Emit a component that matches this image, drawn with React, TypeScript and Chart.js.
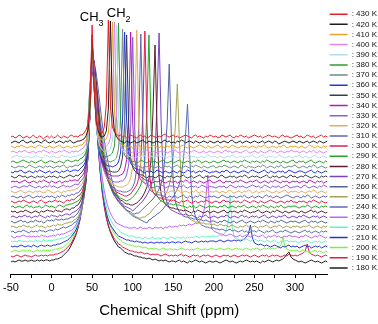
import { useEffect, useRef } from 'react';
import { Chart, registerables } from 'chart.js';

Chart.register(...registerables);

const FONT = '"Liberation Sans", Arial, Helvetica, sans-serif';

// chemical shift sampling (ppm)
const ppmAxis = [
  -50, -47.5, -45, -42.5, -40, -37.5, -35, -32.5, -30, -27.5, -25, -22.5, -20, -17.5, -15, -12.5, -10, -7.5, -5, -2.5,
  0, 2.5, 5, 7.5, 10, 12.5, 15, 17.5, 20, 22.5, 25, 27.5, 30, 32.5, 35, 37.5, 40, 42.5, 45, 47.5,
  50, 52.5, 55, 57.5, 60, 62.5, 65, 67.5, 70, 72.5, 75, 77.5, 80, 82.5, 85, 87.5, 90, 92.5, 95, 97.5,
  100, 102.5, 105, 107.5, 110, 112.5, 115, 117.5, 120, 122.5, 125, 127.5, 130, 132.5, 135, 137.5, 140, 142.5, 145, 147.5,
  150, 152.5, 155, 157.5, 160, 162.5, 165, 167.5, 170, 172.5, 175, 177.5, 180, 182.5, 185, 187.5, 190, 192.5, 195, 197.5,
  200, 202.5, 205, 207.5, 210, 212.5, 215, 217.5, 220, 222.5, 225, 227.5, 230, 232.5, 235, 237.5, 240, 242.5, 245, 247.5,
  250, 252.5, 255, 257.5, 260, 262.5, 265, 267.5, 270, 272.5, 275, 277.5, 280, 282.5, 285, 287.5, 290, 292.5, 295, 297.5,
  300, 302.5, 305, 307.5, 310, 312.5, 315, 317.5, 320, 322.5, 325, 327.5, 330, 332.5, 335, 337.5, 340,
];

const temperatureLabels = [
  '430 K', '420 K', '410 K', '400 K', '390 K', '380 K', '370 K', '360 K', '350 K', '340 K', '330 K', '320 K', '310 K',
  '300 K', '290 K', '280 K', '270 K', '260 K', '250 K', '240 K', '230 K', '220 K', '210 K', '200 K', '190 K', '180 K',
];

const seriesColors = [
  '#e8202a', '#1e1e1e', '#e8a428', '#e484f4', '#b4dcec', '#2e9e2e', '#6e8c84', '#2434e4', '#3c3c48', '#b41cb4',
  '#8c5ce4', '#e4ac64', '#6264bc', '#e41c4c', '#24a424', '#5c1c2c', '#7444c4', '#5064a4', '#a4a454', '#5a6cb4',
  '#c464f4', '#64f4c4', '#2434d4', '#74f444', '#e41c44', '#202020',
];

// intensities (relative to each trace's own baseline)
const t430 = [
  0, 1, -1, 0, 2, 1, -1, 0, 1, -1, 0, 2, 0, -1, 1, 0, -2, 0, 1, -1,
  1, -1, 0, 2, 0, -1, 1, 0, -1, 1, 2, 0, 1, 0, 2, 2, 4, 7, 13, 38,
  112, 49, 18, 8, 5, 4, 10, 33, 117, 32, 10, 5, 3, 1, 2, 0, 1, -1, 0, 2,
  1, 0, -1, 1, 2, 0, 1, -1, 0, 2, 1, 0, -1, 1, 0, 2, 3, 1, 0, 1,
  2, 0, 1, -1, 0, 1, 2, 1, 0, -1, 1, 2, 0, 1, 0, -1, 1, 0, 2, 1,
  0, 1, -1, 0, 2, 1, 0, 1, 2, 0, -1, 1, 0, 2, 1, 0, 1, -1, 0, 1,
  2, 1, 0, 1, -1, 0, 1, 2, 1, 0, 1, 0, -1, 1, 2, 0, 1, 0, -1, 0,
  1, 2, 0, 1, -1, 0, 2, 1, 0, 1, -1, 0, 1, 2, 0, 1, 0,
];
const t420 = [
  -1, 0, 1, 0, -1, 1, 2, 0, -1, 0, 1, -1, 0, 1, 0, -1, 1, 2, 0, -1,
  0, 1, -1, 0, 1, 0, -1, 1, 0, 2, 0, -1, 0, 1, 1, 2, 3, 6, 12, 36,
  107, 53, 21, 11, 6, 5, 6, 11, 33, 121, 33, 11, 5, 3, 1, 0, -1, 1, 0, -1,
  0, 1, -1, 0, 1, 2, 0, -1, 1, 0, -1, 0, 1, 0, -1, 1, 2, 0, 1, -1,
  0, -1, 1, 0, 2, 1, -1, 0, 1, 0, -1, 1, 0, -1, 0, 1, 0, -1, 1, 0,
  -1, 0, 1, -1, 0, 1, 0, -1, 1, 2, 0, -1, 0, 1, -1, 0, 1, 0, -1, 0,
  1, 0, -1, 0, 1, -1, 0, 1, 0, -1, 1, 0, -2, -1, 0, 1, 0, -1, 0, 1,
  0, -1, 1, 0, -1, 0, 1, -1, 0, 1, 0, -1, 1, 0, -1, 0, 1,
];
const t410 = [
  1, 0, -1, 1, 0, 2, 1, 0, -1, 0, 1, 0, -1, 1, 2, 1, 0, -1, 0, 1,
  0, -1, 0, 1, 2, 0, -1, 0, 1, 0, -1, 1, 0, 1, 2, 2, 4, 7, 13, 38,
  105, 59, 25, 13, 8, 7, 7, 8, 14, 38, 125, 37, 13, 6, 3, 2, 1, -1, 0, 1,
  -1, 0, 1, 2, 0, -1, 1, 0, -1, 0, 2, 1, 0, -1, 1, 0, -1, 1, 0, 2,
  1, 0, -1, 0, 1, 2, 0, -1, 1, 0, -1, 0, 1, 2, 1, 0, -1, 1, 0, -1,
  0, 1, 2, 0, -1, 0, 1, -1, 0, 2, 1, 0, -1, 0, 1, 0, 1, -1, 0, 1,
  0, -1, 1, 0, 1, 2, 0, -1, 0, 1, 0, -1, 1, 0, 2, 1, -1, 0, 1, 0,
  1, 0, -1, 1, 0, -1, 0, 2, 1, 0, -1, 1, 0, -1, 1, 0, 1,
];
const t400 = [
  0, 1, 0, -1, 1, 0, 1, 2, 0, -1, 0, 1, -1, 0, 1, 0, 2, 1, 0, -1,
  1, 0, -1, 0, 1, 0, 2, 1, 0, -1, 1, 0, 1, 0, 2, 3, 5, 8, 16, 45,
  116, 68, 30, 16, 10, 8, 6, 6, 8, 14, 40, 130, 38, 13, 6, 3, 2, 0, 1, -1,
  0, 1, 0, -1, 1, 0, 1, 2, 0, -1, 0, 1, -1, 0, 1, 0, 1, -1, 0, 1,
  1, 2, 0, -1, 0, 1, 0, -1, 1, 0, 2, 1, 0, -1, 0, 1, -1, 0, 1, 0,
  -1, 0, 1, 0, -1, 1, 2, 0, 1, -1, 0, 1, 0, -1, 0, 1, 2, 0, -1, 0,
  1, 0, -1, 1, 0, -1, 0, 1, 2, 0, 1, -1, 0, 1, 0, -1, 1, 0, 2, 1,
  0, 1, -1, 0, 1, 0, -1, 1, 0, 2, 0, -1, 1, 0, -1, 0, 1,
];
const t390 = [
  -1, 0, 1, 2, 0, 1, -1, 0, 1, 0, -1, 0, 1, 1, 0, -1, 0, 2, 1, 0,
  0, 1, 0, -1, 0, 2, 1, 0, 1, -1, 0, 1, 0, 2, 2, 3, 5, 8, 17, 46,
  112, 69, 32, 17, 10, 7, 5, 6, 6, 8, 17, 44, 132, 42, 15, 7, 4, 3, 1, 0,
  1, -1, 0, 1, 0, 2, 1, -1, 0, 1, 0, -1, 1, 2, 0, 1, 0, -1, 1, 0,
  0, 1, -1, 0, 1, 0, -1, 1, 2, 0, 1, 0, -1, 0, 1, -1, 0, 2, 1, 0,
  1, 0, -1, 1, 0, -1, 0, 1, 0, 2, 1, -1, 0, 1, 0, -1, 1, 0, 1, 2,
  0, -1, 0, 1, 2, 0, -1, 1, 0, 1, -1, 0, 2, 1, 0, -1, 0, 1, 0, -1,
  1, 0, 2, 0, -1, 1, 0, -1, 0, 1, 2, 0, -1, 0, 1, 0, -1,
];
const t380 = [
  0, 1, 0, -1, 0, 1, 2, 1, 0, -1, 1, 0, -1, 0, 1, 2, 0, -1, 0, 1,
  1, 0, -1, 0, 1, 0, -1, 1, 2, 1, 0, 1, 2, 1, 3, 4, 6, 10, 20, 53,
  122, 81, 40, 22, 14, 9, 6, 5, 6, 7, 9, 16, 45, 139, 44, 15, 7, 4, 3, 2,
  0, 1, -1, 0, 2, 1, 0, -1, 1, 0, 0, 1, -1, 0, 1, 2, 0, -1, 0, 1,
  -1, 0, 1, 2, 0, -1, 0, 1, 0, -1, 1, 0, 2, 1, -1, 0, 1, 0, -1, 0,
  1, 0, -1, 0, 1, 2, 0, 1, -1, 0, 1, 0, -1, 1, 0, 2, 1, 0, -1, 1,
  0, 1, 0, -1, 1, 0, 2, 1, 0, -1, 0, 1, 0, -1, 1, 0, -1, 0, 1, 2,
  0, -1, 1, 0, 1, -1, 0, 1, 2, 0, -1, 0, 1, 0, -1, 1, 0,
];
const t370 = [
  1, 0, -1, 0, 1, 0, 1, -1, 0, 2, 1, 0, -1, 0, 1, 0, -1, 1, 0, 1,
  0, -1, 0, 1, 0, 1, 2, 0, -1, 1, 0, 1, 2, 1, 3, 4, 6, 10, 20, 54,
  117, 82, 43, 23, 15, 10, 7, 6, 6, 5, 6, 7, 9, 18, 48, 138, 48, 17, 8, 5,
  3, 2, 1, 1, 0, -1, 1, 0, 2, 1, 0, -1, 0, 1, -1, 0, 1, 0, 1, -1,
  0, 1, 2, 0, -1, 0, 1, 0, -1, 1, 0, 2, 1, 0, -1, 1, 0, -1, 0, 1,
  1, -1, 0, 1, 0, 2, 1, 0, -1, 0, 1, 0, -1, 1, 2, 0, -1, 1, 0, 0,
  -1, 0, 1, 0, 2, 1, -1, 0, 1, 0, -1, 1, 0, 2, 0, -1, 0, 1, 0, 1,
  2, 0, -1, 0, 1, 0, -1, 1, 0, 2, 1, -1, 0, 1, 0, -1, 0,
];
const t360 = [
  0, -1, 1, 0, 1, 2, 0, -1, 0, 1, 0, -1, 1, 0, 2, 1, 0, -1, 0, 1,
  -1, 0, 1, 0, -1, 1, 0, 1, 2, 0, 1, 2, 2, 1, 3, 5, 7, 12, 24, 62,
  128, 92, 50, 28, 18, 12, 9, 7, 6, 6, 5, 6, 7, 10, 19, 52, 140, 52, 19, 9,
  6, 4, 3, 2, 2, 0, -1, 1, 0, 1, -1, 0, 2, 1, 0, -1, 1, 0, -1, 0,
  1, 0, -1, 1, 0, -1, 0, 2, 1, 0, 1, -1, 0, 1, 0, 2, 1, 0, -1, 0,
  0, 1, 0, -1, 1, 0, 2, 1, -1, 0, 1, 0, -1, 0, 1, 1, 0, -1, 1, 2,
  1, 0, -1, 0, 1, 2, 0, -1, 1, 0, -1, 0, 1, 0, 1, -1, 0, 2, 1, 0,
  -1, 0, 1, 1, 0, -1, 0, 1, 2, 0, -1, 1, 0, -1, 0, 1, 0,
];
const t350 = [
  1, 0, -1, 0, 2, 1, 0, 1, -1, 0, 1, 0, -1, 1, 0, 0, 1, -1, 0, 1,
  0, 1, 0, -1, 1, 0, -1, 0, 1, 2, 1, 0, 2, 1, 3, 5, 8, 13, 26, 64,
  129, 98, 58, 34, 22, 15, 11, 8, 6, 6, 5, 5, 5, 6, 10, 20, 52, 142, 52, 19,
  10, 6, 4, 3, 2, 2, 0, -1, 1, 0, 1, -1, 0, 2, 1, 0, -1, 1, 0, 1,
  -1, 0, 1, 0, 1, 2, 0, -1, 0, 1, -1, 0, 1, 2, 0, -1, 1, 0, 0, 1,
  1, 0, -1, 1, 2, 0, -1, 0, 1, 0, 1, -1, 0, 1, 0, 2, 1, -1, 0, 1,
  0, 1, 0, -1, 0, 1, 2, 0, -1, 1, 0, 1, -1, 0, 1, 0, -1, 1, 2, 0,
  1, -1, 0, 1, 0, 2, 1, 0, -1, 0, 1, 0, -1, 1, 0, 1, 0,
];
const t340 = [
  0, 1, 0, 1, -1, 0, 1, 2, 0, -1, 0, 1, 0, -1, 1, 0, 2, 1, 0, -1,
  1, 0, -1, 0, 1, -1, 0, 1, 0, 2, 1, 2, 2, 1, 4, 6, 9, 15, 30, 73,
  140, 112, 70, 43, 28, 19, 14, 10, 8, 7, 6, 6, 6, 6, 7, 8, 12, 22, 60, 150,
  59, 22, 11, 7, 5, 4, 2, 2, 1, 0, -1, 1, 0, 1, 2, 0, -1, 0, 1, 0,
  0, 1, -1, 0, 1, 0, 2, 1, -1, 0, 1, 0, -1, 1, 0, -1, 0, 1, 2, 0,
  -1, 0, 1, 2, 0, -1, 1, 0, 1, -1, 0, 1, 0, 2, 1, 0, -1, 0, 1, 0,
  1, 2, 0, -1, 0, 1, 0, -1, 1, 0, 2, 1, 0, -1, 1, 0, 1, -1, 0, 1,
  0, 1, -1, 0, 1, 0, -1, 2, 1, 0, -1, 1, 0, 1, -1, 0, 1,
];
const t330 = [
  -1, 0, 1, 0, -1, 0, 1, 1, 0, 2, 1, 0, -1, 0, 1, -1, 0, 1, 0, 2,
  0, 1, 0, -1, 0, 1, 2, 0, 1, 0, 1, 2, 3, 2, 5, 7, 10, 16, 32, 75,
  135, 112, 74, 47, 31, 22, 16, 12, 10, 8, 6, 5, 5, 5, 6, 6, 8, 12, 22, 60,
  150, 59, 22, 11, 7, 5, 4, 3, 2, 1, -1, 0, 1, 0, 2, 1, -1, 0, 1, 1,
  1, 0, -1, 1, 0, 2, 0, -1, 0, 1, 0, 1, -1, 0, 2, 1, 0, -1, 1, 0,
  0, -1, 0, 1, 0, 1, -1, 0, 2, 1, 0, -1, 1, 0, 1, 0, -1, 0, 1, 2,
  1, 0, 1, -1, 0, 2, 1, 0, -1, 1, 0, 0, 1, -1, 0, 1, 2, 0, -1, 0,
  0, 1, 0, -1, 1, 2, 0, -1, 0, 1, 0, -1, 1, 0, 2, 1, 0,
];
const t320 = [
  1, 0, -1, 0, 1, 2, 0, -1, 0, 1, 0, -1, 1, 0, 1, 0, -1, 0, 2, 1,
  0, -1, 0, 1, 0, -1, 1, 0, 2, 1, 2, 2, 3, 4, 6, 8, 12, 20, 38, 86,
  146, 124, 86, 57, 39, 28, 20, 15, 12, 10, 8, 7, 6, 5, 5, 5, 6, 7, 9, 14,
  26, 68, 162, 67, 25, 13, 8, 6, 4, 3, 2, 1, 0, -1, 1, 0, 1, -1, 0, 1,
  1, 0, 2, 1, -1, 0, 1, 0, -1, 1, 0, 2, 0, -1, 1, 0, -1, 0, 1, 0,
  0, 1, 0, -1, 1, 0, -1, 1, 2, 0, -1, 0, 1, 0, -1, 1, 0, 2, 1, -1,
  0, 1, -1, 0, 1, 0, 2, 1, 0, -1, 0, 1, -1, 0, 1, 2, 0, -1, 1, 0,
  1, 0, -1, 1, 0, -1, 0, 1, 0, 2, 1, -1, 0, 1, 0, -1, 1,
];
const t310 = [
  0, 1, 0, -1, 0, 1, -1, 0, 1, 2, 0, -1, 0, 1, 0, 1, -1, 0, 1, 0,
  1, 0, -1, 1, 0, 2, 1, 0, 2, 1, 3, 2, 4, 4, 6, 9, 13, 22, 41, 88,
  142, 126, 94, 66, 47, 34, 26, 20, 16, 13, 10, 9, 7, 6, 6, 5, 5, 5, 6, 7,
  10, 15, 28, 72, 163, 71, 27, 14, 9, 6, 5, 3, 3, 2, 2, 1, 0, -1, 1, 0,
  0, 1, -1, 0, 1, 2, 0, -1, 1, 0, -1, 1, 0, 2, 1, 0, -1, 0, 1, 0,
  1, 0, -1, 0, 2, 1, 0, -1, 1, 0, 1, -1, 0, 1, 0, 2, 0, -1, 0, 1,
  -1, 0, 1, 0, -1, 1, 2, 0, 1, -1, 0, 1, 0, -1, 0, 1, 2, 1, 0, -1,
  0, 1, 0, -1, 1, 0, 2, 1, -1, 0, 1, 0, -1, 0, 1, 0, 1,
];
const t300 = [
  1, 0, -1, 0, 1, 0, 2, 1, 0, -1, 0, 1, 0, -1, 1, 2, 0, -1, 0, 1,
  0, 1, 2, 0, 1, 0, -1, 1, 2, 1, 3, 2, 4, 6, 7, 10, 16, 26, 48, 99,
  152, 138, 109, 81, 59, 44, 34, 26, 21, 17, 14, 12, 10, 9, 8, 7, 6, 6, 7, 8,
  11, 14, 17, 24, 40, 88, 171, 80, 32, 16, 10, 7, 6, 4, 4, 3, 3, 2, 2, 1,
  2, 1, 0, -1, 1, 0, 1, 2, 0, -1, 0, 1, -1, 0, 1, 0, 2, 1, 0, -1,
  0, 1, 0, -1, 1, 2, 0, 1, -1, 0, 1, 0, 1, -1, 0, 2, 1, 0, -1, 1,
  1, 0, -1, 1, 0, -1, 0, 1, 2, 1, 0, -1, 0, 1, 0, -1, 1, 0, 2, 0,
  0, -1, 1, 0, 1, 0, -1, 1, 0, 2, 1, 0, -1, 1, 0, -1, 0,
];
const t290 = [
  0, 1, -1, 0, 1, 0, -1, 1, 2, 0, 1, -1, 0, 0, 1, -1, 0, 2, 1, 0,
  1, 0, -1, 1, 2, 1, 0, 2, 2, 3, 3, 4, 5, 6, 8, 12, 17, 28, 51, 101,
  149, 138, 114, 88, 67, 51, 40, 31, 25, 21, 17, 15, 12, 11, 9, 8, 7, 6, 7, 8,
  10, 12, 15, 18, 22, 30, 47, 96, 172, 84, 34, 18, 11, 8, 6, 5, 4, 4, 3, 3,
  2, 3, 2, 2, 1, 1, 0, -1, 1, 0, 1, -1, 0, 2, 1, 0, -1, 0, 1, 0,
  1, 0, -1, 1, 0, 2, 1, -1, 0, 1, 0, -1, 1, 0, 1, 2, 0, -1, 0, 1,
  0, -1, 1, 0, 2, 1, 0, -1, 1, 0, -1, 1, 0, 2, 0, -1, 0, 1, 0, 1,
  1, 0, -1, 0, 1, 0, 2, 1, -1, 0, 1, 0, -1, 1, 0, 1, 0,
];
const t280 = [
  1, 0, 1, -1, 0, 1, 0, 2, 1, 0, -1, 0, 1, 0, -1, 1, 0, 1, 2, 1,
  1, 0, 2, 1, 1, 0, 2, 3, 3, 2, 4, 4, 6, 7, 10, 14, 20, 32, 58, 112,
  160, 150, 128, 102, 80, 62, 49, 40, 32, 26, 22, 19, 16, 14, 12, 11, 9, 8, 8, 7,
  7, 8, 9, 11, 13, 16, 20, 25, 33, 51, 101, 167, 84, 35, 18, 12, 8, 6, 5, 4,
  4, 3, 3, 2, 2, 1, 2, 1, 0, -1, 1, 0, 2, 1, 0, -1, 0, 1, -1, 0,
  1, 0, -1, 0, 1, 2, 0, -1, 1, 0, 1, 0, -1, 1, 0, 2, 1, 0, -1, 0,
  0, 1, 2, 0, -1, 0, 1, 0, -1, 1, 0, 2, 1, 0, -1, 1, 0, -1, 0, 1,
  1, 0, -1, 1, 0, -1, 0, 1, 2, 0, 1, -1, 0, 1, 0, -1, 0,
];
const t270 = [
  0, 1, 0, -1, 1, 0, 1, 2, 0, 1, -1, 0, 1, 0, 2, 1, 0, -1, 1, 0,
  2, 1, 1, 0, 2, 1, 2, 3, 3, 2, 4, 5, 6, 8, 10, 15, 22, 35, 61, 113,
  157, 149, 130, 107, 86, 68, 55, 44, 36, 30, 25, 21, 19, 16, 14, 13, 11, 10, 9, 8,
  6, 8, 10, 12, 14, 16, 19, 22, 26, 31, 40, 60, 117, 184, 96, 40, 21, 14, 9, 7,
  6, 5, 4, 3, 3, 2, 3, 2, 1, 2, 1, 0, -1, 1, 0, 1, 2, 0, -1, 0,
  1, 0, -1, 0, 1, 0, 2, 1, -1, 0, 1, 0, -1, 1, 2, 0, 1, -1, 0, 1,
  0, 1, -1, 0, 1, 2, 0, -1, 0, 1, 0, -1, 1, 0, 1, 2, 0, -1, 0, 1,
  0, -1, 1, 0, 2, 1, 0, -1, 0, 1, 0, 1, -1, 0, 1, 0, -1,
];
const t260 = [
  1, 0, -1, 0, 1, 2, 0, 1, -1, 0, 1, 0, 2, 1, 0, 1, -1, 0, 2, 1,
  2, 1, 3, 2, 2, 3, 2, 3, 3, 4, 5, 5, 7, 9, 13, 18, 26, 42, 71, 125,
  167, 160, 142, 120, 99, 80, 65, 53, 44, 37, 31, 27, 23, 20, 18, 16, 14, 12, 11, 10,
  8, 8, 9, 9, 11, 13, 15, 17, 19, 21, 23, 26, 29, 33, 38, 47, 67, 100, 158, 89,
  39, 21, 14, 10, 8, 6, 5, 5, 4, 4, 3, 3, 2, 3, 2, 1, 2, 1, 0, 1,
  1, 0, -1, 1, 0, 2, 1, 0, -1, 0, 1, -1, 0, 1, 2, 0, -1, 0, 1, 0,
  -1, 0, 1, 0, 2, 1, 0, -1, 1, 0, -1, 1, 0, 2, 1, 0, -1, 0, 1, 0,
  1, 0, -1, 0, 1, 2, 0, -1, 1, 0, 1, -1, 0, 1, 0, -1, 0,
];
const t250 = [
  0, 1, 0, -1, 1, 0, 2, 1, 0, 1, -1, 0, 1, 2, 0, 1, 0, -1, 1, 0,
  1, 2, 1, 3, 2, 2, 3, 4, 4, 5, 5, 7, 8, 10, 14, 20, 29, 45, 76, 128,
  165, 160, 146, 128, 109, 92, 77, 64, 54, 46, 39, 34, 30, 26, 23, 20, 18, 16, 15, 13,
  12, 11, 10, 9, 9, 10, 10, 12, 13, 15, 18, 20, 22, 24, 26, 29, 32, 36, 42, 51,
  70, 100, 143, 86, 40, 22, 15, 11, 8, 7, 6, 5, 5, 4, 4, 4, 3, 3, 3, 2,
  3, 2, 1, 3, 2, 1, 2, 0, 1, 2, 1, 0, -1, 1, 0, 1, 2, 0, -1, 0,
  1, 0, -1, 1, 0, 1, 2, 0, -1, 0, 1, 0, 2, 1, -1, 0, 1, 0, -1, 1,
  0, 1, 0, -1, 1, 0, 1, 2, 0, -1, 0, 1, 0, -1, 1, 0, 1,
];
const t240 = [
  0, 1, -1, 0, 1, 0, 2, 1, 0, -1, 1, 0, 1, 0, 2, 1, 1, 0, 1, 2,
  2, 1, 3, 2, 3, 4, 5, 4, 5, 6, 7, 9, 10, 13, 17, 24, 35, 54, 87, 139,
  174, 170, 159, 143, 125, 108, 92, 79, 68, 58, 50, 44, 39, 34, 30, 27, 24, 22, 20, 18,
  16, 15, 14, 13, 12, 11, 10, 9, 12, 13, 15, 16, 18, 19, 21, 23, 26, 28, 30, 33,
  35, 39, 43, 48, 57, 73, 95, 128, 80, 39, 22, 15, 11, 9, 7, 6, 5, 5, 4, 4,
  4, 3, 3, 2, 3, 2, 1, 2, 3, 1, 2, 1, 0, 1, 2, 0, 1, -1, 0, 1,
  1, 0, 2, 1, 0, -1, 1, 0, 1, 2, 0, -1, 0, 1, 0, 2, 1, 0, -1, 0,
  1, 0, -1, 0, 1, 2, 0, 1, -1, 0, 1, 0, -1, 1, 0, 1, 0,
];
const t230 = [
  1, 0, -1, 1, 0, 1, 2, 1, 0, 1, 0, 1, 0, 1, 0, 2, 1, 1, 0, 1,
  1, 2, 1, 3, 2, 3, 3, 4, 5, 6, 7, 9, 12, 16, 20, 28, 40, 60, 94, 143,
  172, 160, 131, 101, 77, 59, 46, 36, 29, 24, 20, 17, 14, 13, 12, 11, 10, 10, 9, 9,
  9, 10, 8, 9, 10, 8, 9, 8, 10, 9, 8, 10, 9, 9, 10, 8, 10, 9, 11, 10,
  10, 11, 10, 12, 11, 12, 11, 12, 13, 12, 13, 14, 13, 16, 19, 25, 37, 62, 22, 8,
  6, 5, 4, 3, 3, 2, 1, 2, 3, 2, 1, 0, 1, 2, 0, 1, 2, 1, 0, 1,
  2, 1, 0, 1, 2, 0, -1, 1, 0, 1, 2, 0, 1, -1, 0, 1, 0, 2, 1, 0,
  1, 0, -1, 1, 0, 2, 1, 0, -1, 0, 1, 0, 2, 1, 0, -1, 0,
];
const t220 = [
  1, 0, 1, 0, 2, 1, 0, 1, 0, 1, 1, 0, 2, 1, 1, 0, 2, 1, 1, 2,
  1, 2, 2, 3, 3, 4, 4, 5, 6, 7, 9, 12, 15, 19, 25, 34, 48, 71, 107, 155,
  182, 168, 135, 102, 76, 58, 44, 35, 28, 23, 19, 16, 14, 12, 10, 9, 8, 7, 6, 6,
  6, 5, 4, 5, 4, 3, 5, 4, 3, 4, 5, 3, 4, 4, 3, 5, 4, 3, 4, 5,
  4, 3, 5, 4, 4, 5, 3, 5, 4, 5, 4, 6, 5, 4, 6, 5, 5, 6, 5, 6,
  6, 5, 6, 7, 6, 8, 11, 19, 47, 15, 5, 3, 3, 2, 3, 2, 3, 2, 1, 2,
  3, 2, 1, 2, 1, 0, 2, 1, 0, 1, 2, 0, -1, 1, 0, 1, 2, 0, 1, 0,
  1, 0, -1, 1, 0, 1, 2, 0, -1, 0, 1, 0, 1, -1, 0, 1, 0,
];
const t210 = [
  1, 0, 1, 0, 1, 2, 1, 0, 1, 1, 0, 2, 1, 0, 1, 2, 1, 1, 2, 1,
  1, 2, 2, 3, 3, 4, 5, 6, 7, 9, 11, 14, 17, 22, 28, 38, 53, 77, 112, 156,
  179, 165, 133, 100, 75, 57, 44, 34, 27, 22, 19, 16, 13, 11, 10, 9, 8, 7, 7, 6,
  6, 5, 6, 5, 5, 4, 5, 4, 4, 5, 4, 4, 5, 4, 5, 4, 4, 5, 4, 5,
  5, 4, 5, 5, 4, 5, 6, 5, 5, 4, 5, 6, 5, 5, 6, 5, 6, 5, 6, 6,
  6, 5, 6, 7, 6, 5, 6, 7, 6, 6, 7, 6, 7, 6, 7, 8, 10, 13, 22, 9,
  4, 3, 2, 3, 2, 1, 2, 1, 0, 1, 2, 1, 0, -1, 1, 0, 1, 2, 0, 1,
  0, 1, -1, 0, 1, 2, 0, 1, -1, 0, 1, 0, 1, -1, 0, 1, 0,
];
const t200 = [
  0, 1, 2, 1, 0, 1, 2, 1, 1, 2, 1, 0, 1, 2, 1, 1, 2, 1, 2, 1,
  2, 2, 3, 3, 4, 4, 5, 7, 9, 11, 14, 17, 21, 26, 34, 45, 62, 88, 125, 167,
  188, 175, 143, 111, 85, 64, 50, 39, 32, 26, 22, 18, 16, 13, 12, 10, 9, 8, 7, 7,
  6, 6, 5, 6, 5, 4, 5, 4, 3, 4, 3, 4, 3, 2, 3, 4, 3, 2, 3, 3,
  2, 3, 2, 3, 4, 3, 2, 3, 2, 3, 2, 3, 4, 3, 2, 3, 3, 2, 3, 4,
  3, 2, 3, 4, 3, 2, 3, 4, 3, 2, 3, 4, 3, 3, 2, 3, 4, 3, 2, 3,
  3, 4, 3, 2, 3, 4, 3, 4, 3, 4, 3, 4, 5, 7, 15, 6, 3, 2, 1, 2,
  1, 2, 0, 1, 2, 0, 1, -1, 0, 1, 2, 0, 1, 0, -1, 1, 0,
];
const t190 = [
  1, 0, 1, 2, 1, 0, 1, 2, 1, 1, 0, 1, 2, 1, 1, 2, 1, 2, 1, 2,
  2, 2, 3, 3, 4, 5, 6, 8, 10, 12, 15, 19, 23, 29, 37, 50, 67, 94, 129, 168,
  187, 174, 142, 110, 84, 64, 50, 39, 32, 26, 22, 18, 16, 13, 12, 10, 9, 8, 7, 6,
  6, 5, 5, 4, 5, 4, 3, 4, 3, 2, 3, 2, 3, 2, 1, 2, 3, 2, 1, 2,
  1, 2, 1, 2, 3, 1, 2, 1, 0, 1, 2, 1, 2, 0, 1, 2, 1, 2, 1, 0,
  1, 2, 1, 0, 1, 2, 1, 2, 0, 1, 2, 1, 0, 1, 2, 1, 2, 1, 0, 1,
  2, 1, 0, 1, 2, 1, 2, 0, 1, 2, 1, 2, 1, 0, 1, 2, 1, 3, 2, 1,
  2, 1, 2, 3, 4, 6, 13, 5, 3, 2, 1, 2, 1, 0, 1, 2, 1,
];
const t180 = [
  0, 1, 0, 1, 2, 1, 1, 2, 1, 1, 2, 1, 1, 2, 1, 2, 1, 2, 2, 1,
  2, 2, 3, 3, 4, 5, 7, 9, 11, 14, 18, 22, 27, 34, 43, 57, 77, 104, 141, 179,
  196, 183, 153, 121, 93, 72, 56, 45, 36, 30, 25, 21, 18, 15, 14, 12, 10, 9, 8, 8,
  7, 6, 6, 5, 5, 4, 4, 3, 4, 3, 2, 3, 2, 1, 2, 1, 2, 1, 0, 1,
  1, 0, 1, 2, 0, 1, 0, -1, 1, 0, 1, 2, 1, 0, 1, 0, -1, 0, 1, 0,
  0, 1, 0, -1, 0, 1, 2, 1, 0, 1, 0, -1, 0, 1, 0, 1, 2, 1, 0, 1,
  0, 1, 0, -1, 1, 0, 1, 2, 1, 0, 1, 2, 1, 2, 3, 5, 8, 10, 5, 3,
  2, 1, 0, 1, 0, -1, 0, 1, 2, 1, 0, 1, 0, -1, 0, 1, 0,
];

const seriesValues = [
  t430, t420, t410, t400, t390, t380, t370, t360, t350, t340, t330, t320, t310,
  t300, t290, t280, t270, t260, t250, t240, t230, t220, t210, t200, t190, t180,
];

// vertical stacking step between successive temperatures (intensity units)
const offsetStep = 5;

const peakLabels = [
  { main: 'CH', sub: '3', ppm: 49.5, y: 241 },
  { main: 'CH', sub: '2', ppm: 82.7, y: 245 },
];

export default function App() {
  const canvasRef = useRef<HTMLCanvasElement | null>(null);

  useEffect(() => {
    if (!canvasRef.current) return;
    Chart.defaults.font.family = FONT;
    Chart.defaults.color = '#000';

    const n = seriesValues.length;
    const datasets = seriesValues.map((vals, i) => ({
      label: temperatureLabels[i],
      data: vals.map((v, j) => ({ x: ppmAxis[j], y: v + (n - 1 - i) * offsetStep })),
      borderColor: seriesColors[i],
      backgroundColor: seriesColors[i],
      borderWidth: 1,
      pointRadius: 0,
      pointHoverRadius: 0,
      tension: 0,
      fill: false,
    }));

    const labelPlugin = {
      id: 'peakLabels',
      afterDatasetsDraw(chart: any) {
        const { ctx } = chart;
        const xs = chart.scales.x;
        const ys = chart.scales.y;
        ctx.save();
        ctx.fillStyle = '#000';
        ctx.textBaseline = 'alphabetic';
        ctx.textAlign = 'left';
        for (const lab of peakLabels) {
          ctx.font = `13px ${FONT}`;
          const wMain = ctx.measureText(lab.main).width;
          ctx.font = `9px ${FONT}`;
          const wSub = ctx.measureText(lab.sub).width;
          const cx = xs.getPixelForValue(lab.ppm);
          const by = ys.getPixelForValue(lab.y);
          const left = cx - (wMain + wSub) / 2;
          ctx.font = `13px ${FONT}`;
          ctx.fillText(lab.main, left, by);
          ctx.font = `9px ${FONT}`;
          ctx.fillText(lab.sub, left + wMain, by + 5);
        }
        ctx.restore();
      },
    };

    const chart = new Chart(canvasRef.current, {
      type: 'line',
      data: { datasets },
      options: {
        animation: false,
        responsive: true,
        maintainAspectRatio: false,
        events: [],
        layout: { padding: { left: 10, top: 8, right: 0, bottom: 0 } },
        plugins: {
          tooltip: { enabled: false },
          legend: {
            position: 'right',
            align: 'start',
            maxWidth: 50.5,
            labels: {
              usePointStyle: true,
              pointStyle: 'line',
              pointStyleWidth: 18,
              boxWidth: 18,
              padding: 2.15,
              color: '#111',
              font: { family: FONT, size: 8 },
              generateLabels: (c: any) =>
                (Chart.defaults.plugins.legend.labels as any)
                  .generateLabels(c)
                  .map((it: any) => ({ ...it, lineWidth: 1.5, text: ': ' + it.text })),
            },
          },
        },
        scales: {
          x: {
            type: 'linear',
            min: -50,
            max: 340,
            grid: { drawOnChartArea: false, drawTicks: true, tickLength: 4, tickColor: '#000' },
            border: { display: true, color: '#000', width: 1 },
            ticks: {
              stepSize: 25,
              includeBounds: false,
              autoSkip: false,
              maxRotation: 0,
              padding: 3,
              color: '#000',
              font: { family: FONT, size: 11 },
              callback: (v: any) => (Number(v) % 50 === 0 ? String(v) : ''),
            },
            title: {
              display: true,
              text: 'Chemical Shift (ppm)',
              color: '#000',
              font: { family: FONT, size: 15 },
              padding: { top: 4.3, bottom: 4.5 },
            },
          },
          y: { type: 'linear', display: false, min: -12, max: 254 },
        },
      } as any,
      plugins: [labelPlugin],
    });

    return () => chart.destroy();
  }, []);

  return (
    <div style={{ position: 'absolute', left: 0, top: 0, width: 378, height: 324, background: '#fff' }}>
      <canvas ref={canvasRef} />
    </div>
  );
}
